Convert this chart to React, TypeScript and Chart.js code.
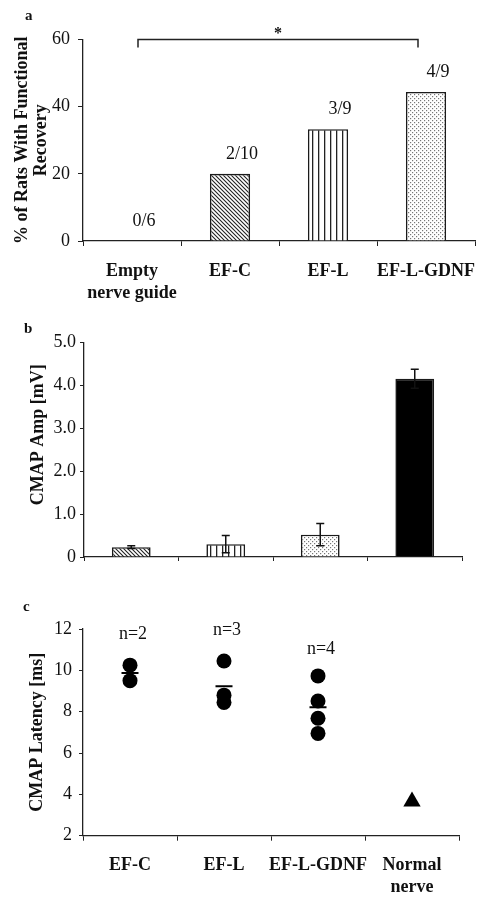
import React, { useEffect, useRef } from "react";
import { Chart, registerables } from "chart.js";

Chart.register(...registerables);

// ---------- Data ----------
const recoveryCategories = [["Empty", "nerve guide"], "EF-C", "EF-L", "EF-L-GDNF"];
const recoveryPercent = [0, 20, 33.3, 44.4];
const recoveryCounts = ["0/6", "2/10", "3/9", "4/9"];
const recoveryTicks = [0, 20, 40, 60];
const significanceLabel = "*";

const ampCategories = ["EF-C", "EF-L", "EF-L-GDNF", "Normal nerve"];
const ampMean = [0.23, 0.3, 0.52, 4.16];
const ampError = [0.03, 0.2, 0.26, 0.22];
const ampTitle = "CMAP Amp [mV]";

const latencyCategories = ["EF-C", "EF-L", "EF-L-GDNF", "Normal nerve"];
const latencyTickLines = [["EF-C"], ["EF-L"], ["EF-L-GDNF"], ["Normal", "nerve"]];
const latencyEFC = [10.25, 9.5];
const latencyEFL = [10.45, 8.8, 8.45];
const latencyEFLGDNF = [9.73, 8.52, 7.68, 6.95];
const latencyNormal = [3.65];
const latencyNLabels = ["n=2", "n=3", "n=4"];
const latencyNLabelY = [11.76, 11.92, 11.0];

const FONT = "'Liberation Serif', 'Times New Roman', serif";
const FS = 18;

// ---------- Patterns ----------
function makePattern(kind: string): CanvasPattern | string {
  const c = document.createElement("canvas");
  const ctx = c.getContext("2d")!;
  if (kind === "diag") {
    c.width = 4; c.height = 4;
    ctx.fillStyle = "#fff"; ctx.fillRect(0, 0, 4, 4);
    ctx.strokeStyle = "#222"; ctx.lineWidth = 1.1;
    ctx.beginPath();
    ctx.moveTo(-1, -1); ctx.lineTo(5, 5);
    ctx.moveTo(-1, 3); ctx.lineTo(1, 5);
    ctx.moveTo(3, -1); ctx.lineTo(5, 1);
    ctx.stroke();
  } else if (kind === "vert") {
    c.width = 6; c.height = 2;
    ctx.fillStyle = "#fff"; ctx.fillRect(0, 0, 6, 2);
    ctx.fillStyle = "#222"; ctx.fillRect(0, 0, 1.3, 2);
  } else if (kind === "dots") {
    c.width = 4; c.height = 4;
    ctx.fillStyle = "#fff"; ctx.fillRect(0, 0, 4, 4);
    ctx.fillStyle = "#777";
    ctx.fillRect(0, 0, 1.2, 1.2);
    ctx.fillRect(2, 2, 1.2, 1.2);
  } else {
    return "#000";
  }
  return ctx.createPattern(c, "repeat")!;
}

function fixedAxisWidth(w: number) {
  return (scale: any) => { scale.width = w; };
}
function fixedAxisHeight(h: number) {
  return (scale: any) => {
    scale.height = h;
    scale.paddingLeft = 0;
    scale.paddingRight = 0;
  };
}

const baseTickFont = { family: FONT, size: FS };
const boldFont = { family: FONT, size: FS, weight: "bold" as const };

// ---------- Panel A ----------
function PanelA() {
  const ref = useRef<HTMLCanvasElement>(null);
  useEffect(() => {
    const fills = [makePattern("none"), makePattern("diag"), makePattern("vert"), makePattern("dots")];
    const annot = {
      id: "annotA",
      afterDatasetsDraw(chart: any) {
        const { ctx, scales } = chart;
        const x = scales.x, y = scales.y;
        ctx.save();
        ctx.fillStyle = "#111";
        ctx.font = `${FS}px ${FONT}`;
        ctx.textAlign = "center";
        ctx.textBaseline = "middle";
        recoveryCounts.forEach((t, i) => {
          ctx.fillText(t, x.getPixelForValue(i) + 12, y.getPixelForValue(recoveryPercent[i]) - 20);
        });
        // significance bracket
        const yy = y.getPixelForValue(60);
        const x0 = x.getPixelForValue(0) + 6;
        const x1 = x.getPixelForValue(3) - 8;
        ctx.strokeStyle = "#222";
        ctx.lineWidth = 1.5;
        ctx.beginPath();
        ctx.moveTo(x0, yy + 8); ctx.lineTo(x0, yy); ctx.lineTo(x1, yy); ctx.lineTo(x1, yy + 8);
        ctx.stroke();
        ctx.font = `bold 16px ${FONT}`;
        ctx.fillText(significanceLabel, (x0 + x1) / 2, yy - 6);
        ctx.restore();
      },
    };
    const chart = new Chart(ref.current!, {
      type: "bar",
      data: {
        labels: recoveryCategories as any,
        datasets: [{
          data: recoveryPercent,
          backgroundColor: fills as any,
          borderColor: "#1a1a1a",
          borderWidth: recoveryPercent.map((v) => (v > 0 ? 1.6 : 0)),
          barPercentage: 0.41,
          categoryPercentage: 1,
        }],
      },
      options: {
        animation: false,
        responsive: false,
        layout: { padding: { left: 0, right: 9, top: 39.5, bottom: 0 } },
        plugins: { legend: { display: false }, tooltip: { enabled: false } },
        scales: {
          x: {
            grid: { display: true, drawOnChartArea: false, tickLength: 5, color: "#222", offset: true },
            border: { color: "#222", width: 1.3 },
            ticks: { font: { ...boldFont, lineHeight: 1.2 }, color: "#111", padding: 14.5, maxRotation: 0, autoSkip: false },
            afterFit: fixedAxisHeight(64),
          },
          y: {
            min: 0, max: 60,
            afterBuildTicks: (s: any) => { s.ticks = recoveryTicks.map((v) => ({ value: v })); },
            grid: { display: true, drawOnChartArea: false, tickLength: 5, color: "#222" },
            border: { color: "#222", width: 1.3 },
            ticks: { font: baseTickFont, color: "#111", padding: 8 },
            title: {
              display: true,
              text: ["% of Rats With Functional", "Recovery"],
              font: { ...boldFont, lineHeight: 1.1 },
              color: "#111",
              padding: { top: 12, bottom: 0 },
            },
            afterFit: fixedAxisWidth(83),
          },
        },
      },
      plugins: [annot],
    });
    return () => chart.destroy();
  }, []);
  return <canvas ref={ref} width={484} height={305} style={{ position: "absolute", left: 0, top: 0 }} />;
}

// ---------- Panel B ----------
function PanelB() {
  const ref = useRef<HTMLCanvasElement>(null);
  useEffect(() => {
    const fills = [makePattern("diag"), makePattern("vert"), makePattern("dots"), makePattern("none")];
    const errPlugin = {
      id: "errB",
      afterDatasetsDraw(chart: any) {
        const { ctx, scales, chartArea } = chart;
        const meta = chart.getDatasetMeta(0);
        ctx.save();
        ctx.strokeStyle = "#111";
        ctx.lineWidth = 1.5;
        meta.data.forEach((bar: any, i: number) => {
          const x = bar.x;
          const top = scales.y.getPixelForValue(ampMean[i] + ampError[i]);
          const bot = scales.y.getPixelForValue(ampMean[i] - ampError[i]);
          ctx.beginPath();
          ctx.moveTo(x, top); ctx.lineTo(x, bot);
          ctx.moveTo(x - 4, top); ctx.lineTo(x + 4, top);
          ctx.moveTo(x - 4, bot); ctx.lineTo(x + 4, bot);
          ctx.stroke();
        });
        // axis title (slightly above centre, as in the original)
        ctx.translate(38, (chartArea.top + chartArea.bottom) / 2 - 15);
        ctx.rotate(-Math.PI / 2);
        ctx.fillStyle = "#111";
        ctx.font = `bold ${FS}px ${FONT}`;
        ctx.textAlign = "center";
        ctx.textBaseline = "middle";
        ctx.fillText(ampTitle, 0, 0);
        ctx.restore();
      },
    };
    const chart = new Chart(ref.current!, {
      type: "bar",
      data: {
        labels: ampCategories,
        datasets: [{
          data: ampMean,
          backgroundColor: fills as any,
          borderColor: "#1a1a1a",
          borderWidth: 1.6,
          barPercentage: 0.41,
          categoryPercentage: 1,
        }],
      },
      options: {
        animation: false,
        responsive: false,
        layout: { padding: { left: 0, right: 22, top: 37.7, bottom: 0 } },
        plugins: { legend: { display: false }, tooltip: { enabled: false } },
        scales: {
          x: {
            grid: { display: true, drawOnChartArea: false, tickLength: 4, color: "#222", offset: true },
            border: { color: "#222", width: 1.3 },
            ticks: { display: false },
            afterFit: fixedAxisHeight(28),
          },
          y: {
            min: 0, max: 5,
            ticks: {
              stepSize: 1,
              font: baseTickFont, color: "#111", padding: 4,
              callback: (v: any) => (Number(v) === 0 ? "0" : Number(v).toFixed(1)),
            },
            grid: { display: true, drawOnChartArea: false, tickLength: 4, color: "#222" },
            border: { color: "#222", width: 1.3 },
            afterFit: fixedAxisWidth(84),
          },
        },
      },
      plugins: [errPlugin],
    });
    return () => chart.destroy();
  }, []);
  return <canvas ref={ref} width={484} height={280} style={{ position: "absolute", left: 0, top: 305 }} />;
}

// ---------- Panel C ----------
function PanelC() {
  const ref = useRef<HTMLCanvasElement>(null);
  useEffect(() => {
    const mean = (a: number[]) => a.reduce((s, v) => s + v, 0) / a.length;
    const groups = [latencyEFC, latencyEFL, latencyEFLGDNF];
    const circlePoints: any[] = [];
    groups.forEach((g, i) => g.forEach((v) => circlePoints.push({ x: latencyCategories[i], y: v })));
    const meanPoints = groups.map((g, i) => ({ x: latencyCategories[i], y: mean(g) }));
    const normalPoints = latencyNormal.map((v) => ({ x: latencyCategories[3], y: v }));
    const nPlugin = {
      id: "nLabels",
      afterDatasetsDraw(chart: any) {
        const { ctx, scales } = chart;
        ctx.save();
        ctx.fillStyle = "#111";
        ctx.font = `${FS}px ${FONT}`;
        ctx.textAlign = "center";
        ctx.textBaseline = "middle";
        latencyNLabels.forEach((t, i) => {
          ctx.fillText(t, scales.x.getPixelForValue(i) + 3, scales.y.getPixelForValue(latencyNLabelY[i]));
        });
        ctx.restore();
      },
    };
    const chart = new Chart(ref.current!, {
      type: "line",
      data: {
        labels: latencyCategories,
        datasets: [
          {
            data: circlePoints,
            showLine: false,
            pointStyle: "circle",
            pointRadius: 7.5,
            pointBackgroundColor: "#000",
            pointBorderColor: "#000",
            pointBorderWidth: 0,
          },
          {
            data: meanPoints,
            showLine: false,
            pointStyle: "line",
            pointRadius: 8.5,
            pointBorderColor: "#000",
            pointBorderWidth: 2,
          },
          {
            data: normalPoints,
            showLine: false,
            pointStyle: "triangle",
            pointRadius: 10,
            pointBackgroundColor: "#000",
            pointBorderColor: "#000",
            pointBorderWidth: 0,
          },
        ],
      },
      options: {
        animation: false,
        responsive: false,
        layout: { padding: { left: 0, right: 25, top: 44, bottom: 0 } },
        plugins: { legend: { display: false }, tooltip: { enabled: false } },
        scales: {
          x: {
            type: "category",
            offset: true,
            grid: { display: true, drawOnChartArea: false, tickLength: 5, color: "#222", offset: true },
            border: { color: "#222", width: 1.3 },
            ticks: {
              font: { ...boldFont, lineHeight: 1.2 }, color: "#111", padding: 14, maxRotation: 0, autoSkip: false,
              callback: (_v: any, i: number) => latencyTickLines[i],
            },
            afterFit: fixedAxisHeight(64.3),
          },
          y: {
            min: 2, max: 12,
            ticks: { stepSize: 2, font: baseTickFont, color: "#111", padding: 7 },
            grid: { display: true, drawOnChartArea: false, tickLength: 4, color: "#222" },
            border: { color: "#222", width: 1.3 },
            title: {
              display: true,
              text: "CMAP Latency [ms]",
              font: { ...boldFont, lineHeight: 1.1 },
              color: "#111",
              padding: { top: 27.5, bottom: 0 },
            },
            afterFit: fixedAxisWidth(83),
          },
        },
      },
      plugins: [nPlugin],
    });
    return () => chart.destroy();
  }, []);
  return <canvas ref={ref} width={484} height={315} style={{ position: "absolute", left: 0, top: 585 }} />;
}

const letterStyle: React.CSSProperties = {
  position: "absolute",
  fontFamily: FONT,
  fontWeight: "bold",
  fontSize: 15,
  lineHeight: "15px",
  color: "#111",
};

export default function App() {
  return (
    <div style={{ position: "absolute", left: 0, top: 0, width: 484, height: 900, background: "#fff", overflow: "hidden" }}>
      <PanelA />
      <PanelB />
      <PanelC />
      <div style={{ ...letterStyle, left: 25, top: 8 }}>a</div>
      <div style={{ ...letterStyle, left: 24, top: 321 }}>b</div>
      <div style={{ ...letterStyle, left: 23, top: 599 }}>c</div>
    </div>
  );
}
